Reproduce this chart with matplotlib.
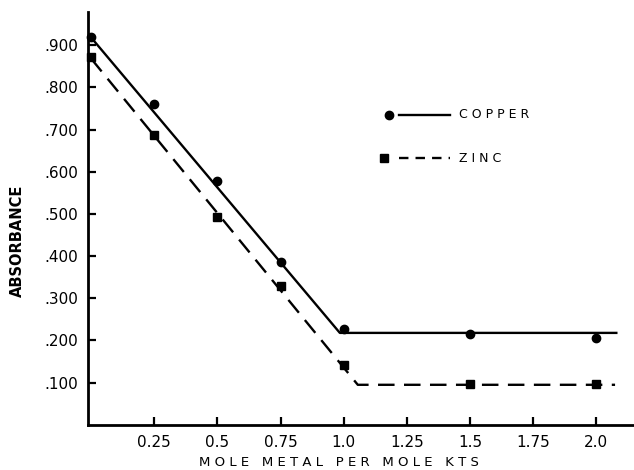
import matplotlib.pyplot as plt
import numpy as np

# measured points
mole_ratio = [0.0, 0.25, 0.5, 0.75, 1.0, 1.5, 2.0]
copper_abs = [0.920, 0.760, 0.579, 0.386, 0.228, 0.215, 0.205]
zinc_abs = [0.871, 0.686, 0.493, 0.328, 0.142, 0.098, 0.096]

# hand-drawn fitted lines (break points)
copper_fit_x = [0.0, 0.985, 2.08]
copper_fit_y = [0.918, 0.218, 0.218]
zinc_fit_x = [0.0, 1.056, 2.075]
zinc_fit_y = [0.868, 0.095, 0.095]

xticks = [0.25, 0.5, 0.75, 1.0, 1.25, 1.5, 1.75, 2.0]
xtick_labels = ['0.25', '0.5', '0.75', '1.0', '1.25', '1.5', '1.75', '2.0']
yticks = [0.1, 0.2, 0.3, 0.4, 0.5, 0.6, 0.7, 0.8, 0.9]
ytick_labels = ['.100', '.200', '.300', '.400', '.500', '.600', '.700', '.800', '.900']

plt.rcParams['font.family'] = ['DejaVu Sans']

fig = plt.figure(figsize=(6.34, 4.70), dpi=100)
ax = fig.add_axes([0.139, 0.096, 0.861, 0.878])

ax.plot(copper_fit_x, copper_fit_y, color='black', linewidth=1.7)
ax.plot(zinc_fit_x, zinc_fit_y, color='black', linewidth=1.7, dashes=(7, 4))
ax.plot(mole_ratio, copper_abs, 'o', color='black', markersize=6, clip_on=False)
ax.plot(mole_ratio, zinc_abs, 's', color='black', markersize=6, clip_on=False)

# legend drawn by hand inside the plot
ax.plot([1.18], [0.735], 'o', color='black', markersize=6)
ax.plot([1.22, 1.42], [0.735, 0.735], color='black', linewidth=1.7)
ax.text(1.455, 0.735, 'C O P P E R', fontsize=9, va='center', ha='left')
ax.plot([1.16], [0.632], 's', color='black', markersize=6)
ax.plot([1.22, 1.42], [0.632, 0.632], color='black', linewidth=1.7, dashes=(4, 3))
ax.text(1.455, 0.632, 'Z I N C', fontsize=9, va='center', ha='left')

ax.set_xlim(-0.012, 2.15)
ax.set_ylim(0, 0.978)
ax.set_xticks(xticks)
ax.set_xticklabels(xtick_labels, fontsize=11)
ax.set_yticks(yticks)
ax.set_yticklabels(ytick_labels, fontsize=11)
ax.tick_params(direction='in', length=6, width=1.6, pad=7)

for side in ['top', 'right']:
    ax.spines[side].set_visible(False)
for side in ['left', 'bottom']:
    ax.spines[side].set_linewidth(2)

fig.text(0.028, 0.487, 'ABSORBANCE', rotation=90, fontsize=10.5,
         fontweight='bold', ha='center', va='center')
fig.text(0.535, 0.017, 'M O L E   M E T A L   P E R   M O L E   K T S',
         fontsize=9.5, ha='center', va='center')

fig.savefig('out.png', dpi=100)
